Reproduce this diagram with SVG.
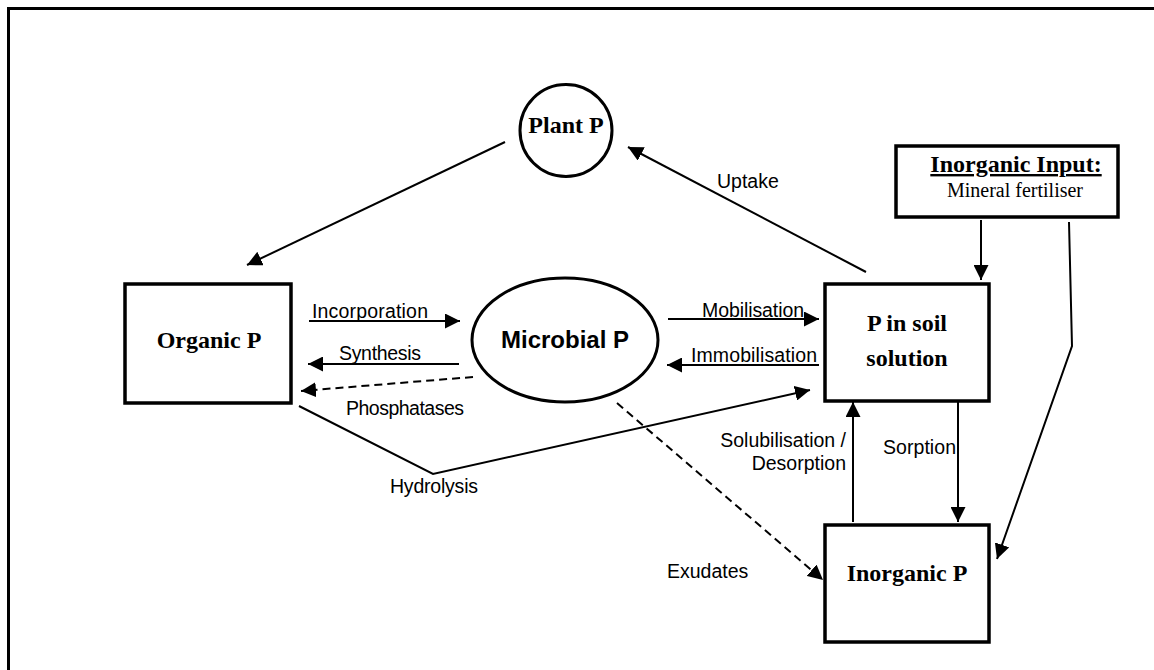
<svg xmlns="http://www.w3.org/2000/svg" width="1154" height="670" viewBox="0 0 1154 670">
<style>
.box{fill:#fff;stroke:#000;stroke-width:3.5}
.ell{fill:#fff;stroke:#000;stroke-width:3}
.node{font-family:"Liberation Serif",serif;font-weight:bold;font-size:24px;fill:#000}
.lab{font-family:"Liberation Sans",Arial,sans-serif;font-size:19.5px;fill:#000}
.con{fill:none;stroke:#000;stroke-width:2}
.dash{stroke-dasharray:8 5}
</style>
<defs>
<marker id="ah" markerUnits="userSpaceOnUse" markerWidth="16" markerHeight="15" refX="15" refY="7.5" orient="auto" viewBox="0 0 16 15">
<path d="M0,0 L15,7.5 L0,15 z" fill="#000"/>
</marker>
</defs>
<rect x="8.5" y="8.5" width="1200" height="700" fill="none" stroke="#000" stroke-width="3"/>
<g id="connectors">
<line class="con" x1="505" y1="142" x2="247" y2="265" marker-end="url(#ah)"/>
<line class="con" x1="866" y1="272" x2="628" y2="147" marker-end="url(#ah)"/>
<line class="con" x1="309" y1="321" x2="460" y2="321" marker-end="url(#ah)"/>
<line class="con" x1="459" y1="364" x2="308" y2="364" marker-end="url(#ah)"/>
<line class="con dash" x1="473" y1="377" x2="301" y2="391" marker-end="url(#ah)"/>
<line class="con" x1="668" y1="319" x2="819" y2="319" marker-end="url(#ah)"/>
<line class="con" x1="819" y1="365" x2="667" y2="365" marker-end="url(#ah)"/>
<polyline class="con" points="299,406 433,474 810,390" marker-end="url(#ah)"/>
<line class="con dash" x1="617" y1="403" x2="823" y2="580" marker-end="url(#ah)"/>
<line class="con" x1="853" y1="522" x2="853" y2="402" marker-end="url(#ah)"/>
<line class="con" x1="958" y1="400" x2="958" y2="522" marker-end="url(#ah)"/>
<line class="con" x1="981" y1="220" x2="981" y2="280" marker-end="url(#ah)"/>
<polyline class="con" points="1069,222 1072,346 997,559" marker-end="url(#ah)"/>
<text class="lab" x="312" y="318" textLength="116">Incorporation</text>
<text class="lab" x="339" y="360" textLength="82">Synthesis</text>
<text class="lab" x="346" y="415" textLength="118">Phosphatases</text>
<text class="lab" x="390" y="493" textLength="88">Hydrolysis</text>
<text class="lab" x="702" y="317" textLength="102">Mobilisation</text>
<text class="lab" x="691" y="362" textLength="126">Immobilisation</text>
<text class="lab" x="717" y="188" font-size="17">Uptake</text>
<text class="lab" x="846" y="447" text-anchor="end">Solubilisation /</text>
<text class="lab" x="846" y="470" text-anchor="end">Desorption</text>
<text class="lab" x="883" y="454" textLength="73">Sorption</text>
<text class="lab" x="667" y="578">Exudates</text>
</g>
<g id="plant-p">
<circle class="ell" cx="566" cy="130.5" r="46"/>
<text class="node" x="566" y="133" text-anchor="middle" font-size="23">Plant P</text>
</g>
<g id="organic-p">
<rect class="box" x="125" y="284" width="166" height="119"/>
<text class="node" x="209" y="348" text-anchor="middle">Organic P</text>
</g>
<g id="microbial-p">
<ellipse class="ell" cx="565" cy="340" rx="93" ry="62"/>
<text x="565" y="348" text-anchor="middle" font-family="Liberation Sans, Arial, sans-serif" font-weight="bold" font-size="24">Microbial P</text>
</g>
<g id="p-soil-solution">
<rect class="box" x="825" y="284" width="164" height="117"/>
<text class="node" x="907" y="331" text-anchor="middle">P in soil</text>
<text class="node" x="907" y="366" text-anchor="middle">solution</text>
</g>
<g id="inorganic-p">
<rect class="box" x="825" y="525" width="164" height="117"/>
<text class="node" x="907" y="581" text-anchor="middle">Inorganic P</text>
</g>
<g id="inorganic-input">
<rect class="box" x="896" y="146" width="222" height="71"/>
<text class="node" x="1016" y="172" text-anchor="middle" text-decoration="underline" font-size="23">Inorganic Input:</text>
<text x="1015" y="197" text-anchor="middle" font-family="Liberation Serif, serif" font-size="20">Mineral fertiliser</text>
</g>
</svg>
